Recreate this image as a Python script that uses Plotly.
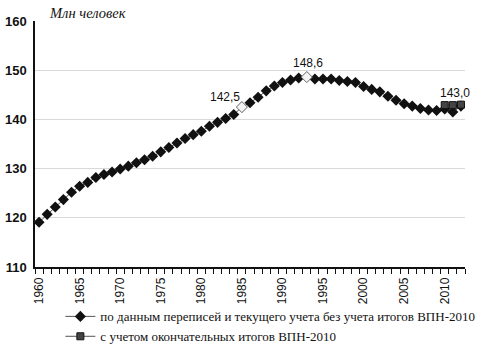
import plotly.graph_objects as go

years = list(range(1960, 2013))
pop_no_census = [
    119.1, 120.7, 122.2, 123.7, 125.2, 126.4, 127.2, 128.2, 128.8, 129.3,
    129.9, 130.5, 131.2, 131.8, 132.5, 133.4, 134.3, 135.2, 136.1, 136.9,
    137.6, 138.6, 139.4, 140.2, 141.0, 142.5, 143.4, 144.5, 145.8, 146.8,
    147.5, 148.0, 148.4, 148.6, 148.2, 148.2, 148.2, 147.9, 147.7, 147.5,
    146.7, 146.1, 145.6, 144.7, 143.9, 143.2, 142.7, 142.2, 141.9, 141.8,
    142.1, 141.5, 142.7,
]
census_years = [2010, 2011, 2012]
pop_census = [142.9, 142.9, 143.0]
highlight_years = [1985, 1993]
highlight_vals = [142.5, 148.6]
label_years = [1985, 1993, 2012]
label_vals = [142.5, 148.6, 143.0]
label_texts = ["142,5", "148,6", "143,0"]
label_shift = [(-17, 10), (1, 14), (-6, 12)]

name1 = "по данным переписей и текущего учета без учета итогов ВПН-2010"
name2 = "с учетом окончательных итогов ВПН-2010"

fig = go.Figure()
fig.add_trace(go.Scatter(
    x=years, y=pop_no_census, mode="lines+markers", name=name1,
    line=dict(color="#555555", width=1),
    marker=dict(symbol="diamond", size=8.5, color="#111111", line=dict(width=0)),
))
fig.add_trace(go.Scatter(
    x=highlight_years, y=highlight_vals, mode="markers", showlegend=False,
    marker=dict(symbol="diamond", size=8.5, color="#f4f4f4", line=dict(color="#777777", width=1)),
))
fig.add_trace(go.Scatter(
    x=census_years, y=pop_census, mode="lines+markers", name=name2,
    line=dict(color="#555555", width=1),
    marker=dict(symbol="square", size=7, color="#444444", line=dict(color="#111111", width=1)),
))

for yr, v, t, (dx, dy) in zip(label_years, label_vals, label_texts, label_shift):
    fig.add_annotation(x=yr, y=v, text=t, showarrow=False, xshift=dx, yshift=dy,
                       font=dict(family="Liberation Sans, Arial", size=12, color="#111"))

fig.add_annotation(xref="paper", yref="paper", x=0.028, y=1.0, yshift=8,
                   xanchor="left", yanchor="middle", showarrow=False,
                   text="<i>Млн человек</i>",
                   font=dict(family="Liberation Serif, Times New Roman", size=14.5, color="#111"))

fig.update_layout(
    width=481, height=347,
    margin=dict(l=35, r=16, t=21, b=80, autoexpand=False),
    paper_bgcolor="white", plot_bgcolor="white",
    showlegend=True,
    legend=dict(x=0.059, y=-0.14, xanchor="left", yanchor="top",
                orientation="v", itemwidth=30, tracegroupgap=0,
                font=dict(family="Liberation Serif, Times New Roman", size=13, color="#111"),
                bgcolor="rgba(0,0,0,0)"),
)
fig.update_xaxes(
    range=[1959.5, 2012.5],
    tickvals=list(range(1960, 2011, 5)),
    tickangle=-90,
    ticks="",
    ticklabelstandoff=4,
    showgrid=False, zeroline=False,
    showline=True, linecolor="#111", linewidth=1.5,
    tickfont=dict(family="Liberation Sans, Arial", size=12, color="#111"),
    minor=dict(ticks="outside", tick0=1959.5, dtick=1, ticklen=5, tickcolor="#111", tickwidth=1, showgrid=False),
)
fig.update_yaxes(
    range=[110, 160],
    tickvals=[110, 120, 130, 140, 150, 160],
    showgrid=True, gridcolor="#d9d9d9", gridwidth=1,
    zeroline=False,
    showline=True, linecolor="#111", linewidth=1.5,
    ticks="outside", ticklen=4, tickcolor="rgba(0,0,0,0)",
    tickfont=dict(family="Liberation Sans, Arial", size=13, color="#111", weight="bold"),
)

fig.write_html("out.html")
